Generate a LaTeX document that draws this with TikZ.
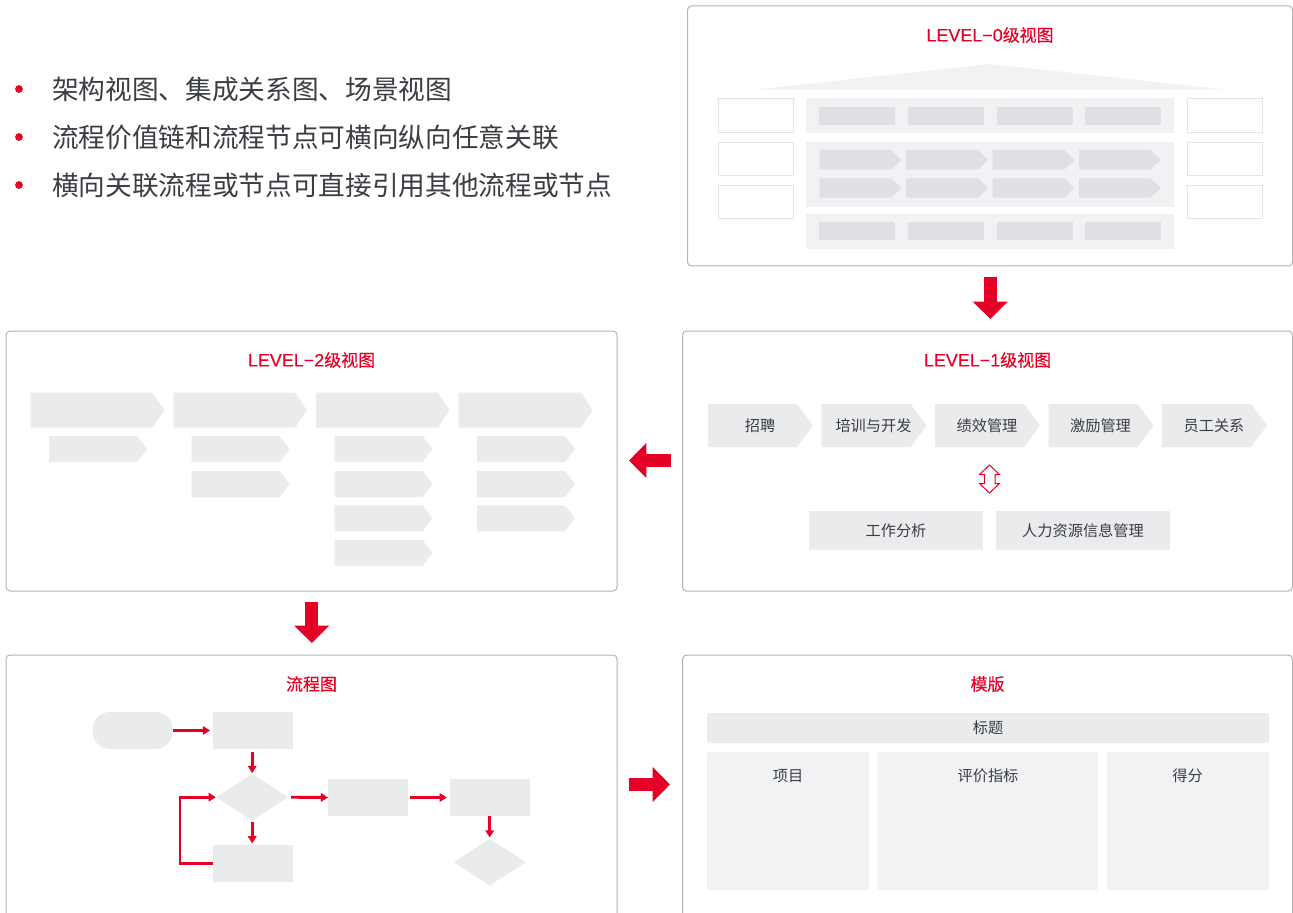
\documentclass[tikz,border=0pt]{standalone}
\usepackage{fontspec}
\setmainfont{Liberation Sans}
\newfontfamily\cjk{Noto Sans CJK SC}
\newfontfamily\cjkt[FakeBold=0.3]{Noto Sans CJK SC}
\newfontfamily\lattitle[FakeBold=0.25,Scale=1.06]{Liberation Sans}
\usetikzlibrary{arrows.meta,shapes.geometric}
\definecolor{brandred}{HTML}{E60026}
\definecolor{panelline}{HTML}{B4B4B4}
\definecolor{boxgrey}{HTML}{EAEBED}
\definecolor{bandgrey}{HTML}{F1F2F4}
\definecolor{innergrey}{HTML}{DFE0E3}
\definecolor{hollowline}{HTML}{E3E4E7}
\definecolor{inktext}{HTML}{3A3D42}
\tikzset{
  panelbox/.style={draw=panelline,line width=0.75pt,rounded corners=3pt,fill=white},
  greybox/.style={fill=boxgrey},
  bandbox/.style={fill=bandgrey},
  softbox/.style={fill=bandgrey,rounded corners=1.5pt},
  softhead/.style={fill=boxgrey,rounded corners=1.5pt},
  innerbox/.style={fill=innergrey},
  hollowbox/.style={draw=hollowline,line width=0.75pt,fill=white},
  label/.style={font=\cjk\fontsize{11.4pt}{13pt}\selectfont,text=inktext},
  paneltitle/.style={text=brandred,font=\fontsize{12.7pt}{15pt}\selectfont,inner sep=0pt},
  bullettext/.style={anchor=west,inner sep=0pt,text=inktext,font=\cjk\fontsize{20pt}{24pt}\selectfont},
  bulletdot/.style={circle,fill=brandred,inner sep=0pt,minimum size=5.8pt},
  blockarrow/.style={draw=brandred,line width=10pt,-{Triangle[width=25.5pt,length=13pt,color=brandred]}},
  flowarrow/.style={draw=brandred,line width=2.2pt,-{Triangle[width=6.4pt,length=5.4pt,color=brandred]}},
}
% name, style, x0, y0, x1, y1, text (all in reference pixels)
\newcommand{\pxbox}[7]{\node[#2,inner sep=0pt,outer sep=0pt,minimum width={(#5-#3)*0.75pt},minimum height={(#6-#4)*0.75pt}] (#1) at ({(#3+#5)/2},{(#4+#6)/2}) {#7};}
% colour, x0, body end, tip, y0, y1
\newcommand{\chevron}[6]{\fill[#1] (#2,#5) -- (#3,#5) -- (#4,{(#5+#6)/2}) -- (#3,#6) -- (#2,#6) -- cycle;}
\begin{document}
\begin{tikzpicture}[x=0.75pt,y=-0.75pt]
\useasboundingbox (0,0) rectangle (1293,913);
\fill[white] (0,0) rectangle (1293,913);
\clip (0,0) rectangle (1293,913);

% bullets
\node[bulletdot] (b1) at (19,89) {};
\node[bulletdot] (b2) at (19,137) {};
\node[bulletdot] (b3) at (19,185) {};
\node[bullettext] (t1) at (52,89) {架构视图、集成关系图、场景视图};
\node[bullettext] (t2) at (52,137) {流程价值链和流程节点可横向纵向任意关联};
\node[bullettext] (t3) at (52,185) {横向关联流程或节点可直接引用其他流程或节点};

% panels
\pxbox{p0}{panelbox}{687.5}{6}{1292.5}{266}{}
\pxbox{p1}{panelbox}{682.5}{331}{1292.5}{591}{}
\pxbox{p2}{panelbox}{6}{331}{617}{591}{}
\pxbox{p3}{panelbox}{6}{655}{617}{930}{}
\pxbox{p4}{panelbox}{682.5}{655}{1292.5}{930}{}

% panel titles
\node[paneltitle] (h0) at (990,35) {{\lattitle LEVEL−0}{\cjkt 级视图}};
\node[paneltitle] (h1) at (987.5,360) {{\lattitle LEVEL−1}{\cjkt 级视图}};
\node[paneltitle] (h2) at (311.5,360) {{\lattitle LEVEL−2}{\cjkt 级视图}};
\node[paneltitle] (h3) at (311.5,684) {\cjkt 流程图};
\node[paneltitle] (h4) at (987.5,684) {\cjkt 模版};

% LEVEL-0
\fill[bandgrey] (754,89.7) -- (990,64) -- (1226,89.7) -- cycle;
\pxbox{l1}{hollowbox}{718.5}{99}{793}{132.5}{}
\pxbox{l2}{hollowbox}{718.5}{142.5}{793}{176}{}
\pxbox{l3}{hollowbox}{718.5}{185.5}{793}{219}{}
\pxbox{r1}{hollowbox}{1187.5}{99}{1262}{132.5}{}
\pxbox{r2}{hollowbox}{1187.5}{142.5}{1262}{176}{}
\pxbox{r3}{hollowbox}{1187.5}{185.5}{1262}{219}{}
\pxbox{b01}{bandbox}{806}{98}{1174}{133}{}
\pxbox{b02}{bandbox}{806}{142}{1174}{207}{}
\pxbox{b03}{bandbox}{806}{214}{1174}{249}{}
\pxbox{i11}{innerbox}{819}{107}{895}{125.5}{}
\pxbox{i12}{innerbox}{908}{107}{984}{125.5}{}
\pxbox{i13}{innerbox}{997}{107}{1073}{125.5}{}
\pxbox{i14}{innerbox}{1085}{107}{1161}{125.5}{}
\pxbox{i31}{innerbox}{819}{222}{895}{240}{}
\pxbox{i32}{innerbox}{908}{222}{984}{240}{}
\pxbox{i33}{innerbox}{997}{222}{1073}{240}{}
\pxbox{i34}{innerbox}{1085}{222}{1161}{240}{}
\chevron{innergrey}{819.5}{891}{901.5}{150}{169.7}
\chevron{innergrey}{906}{978}{988}{150}{169.7}
\chevron{innergrey}{992.5}{1064}{1074.5}{150}{169.7}
\chevron{innergrey}{1079}{1150}{1161}{150}{169.7}
\chevron{innergrey}{819.5}{891}{901.5}{178.3}{197.7}
\chevron{innergrey}{906}{978}{988}{178.3}{197.7}
\chevron{innergrey}{992.5}{1064}{1074.5}{178.3}{197.7}
\chevron{innergrey}{1079}{1150}{1161}{178.3}{197.7}

% LEVEL-1
\chevron{boxgrey}{708}{797}{813}{404}{447}
\chevron{boxgrey}{821.5}{910.5}{926.5}{404}{447}
\chevron{boxgrey}{935}{1024}{1040}{404}{447}
\chevron{boxgrey}{1048.5}{1137.5}{1153.5}{404}{447}
\chevron{boxgrey}{1162}{1251}{1267}{404}{447}
\node[label] (c1) at (760,425.5) {招聘};
\node[label] (c2) at (873.5,425.5) {培训与开发};
\node[label] (c3) at (987,425.5) {绩效管理};
\node[label] (c4) at (1100.5,425.5) {激励管理};
\node[label] (c5) at (1214,425.5) {员工关系};
\draw[brandred,line width=0.75pt,fill=white,miter limit=10] (989.5,465) -- (999.5,474.5) -- (995,474.5) -- (995,483.5) -- (999.5,483.5) -- (989.5,493) -- (979.5,483.5) -- (984.5,483.5) -- (984.5,474.5) -- (979.5,474.5) -- cycle;
\pxbox{w1}{greybox,label}{809}{511}{983}{550}{工作分析}
\pxbox{w2}{greybox,label}{996}{511}{1170}{550}{人力资源信息管理}

% LEVEL-2
\chevron{boxgrey}{30.5}{152}{164.5}{392.7}{427.7}
\chevron{boxgrey}{173.5}{295}{307}{392.7}{427.7}
\chevron{boxgrey}{316}{438}{449.5}{392.7}{427.7}
\chevron{boxgrey}{458.5}{581}{592.5}{392.7}{427.7}
\chevron{boxgrey}{49}{137}{147}{436}{462}
\chevron{boxgrey}{191.5}{279.5}{289.5}{436}{462}
\chevron{boxgrey}{191.5}{279.5}{289.5}{471}{497}
\chevron{boxgrey}{334.5}{422.5}{432.5}{436}{462}
\chevron{boxgrey}{334.5}{422.5}{432.5}{471}{497}
\chevron{boxgrey}{334.5}{422.5}{432.5}{505.3}{531.3}
\chevron{boxgrey}{334.5}{422.5}{432.5}{540}{566}
\chevron{boxgrey}{477}{565}{575}{436}{462}
\chevron{boxgrey}{477}{565}{575}{471}{497}
\chevron{boxgrey}{477}{565}{575}{505.3}{531.3}

% flow chart
\pxbox{fs}{greybox,rounded corners=13pt}{92.7}{712}{172.7}{749}{}
\pxbox{fa}{greybox}{213}{712}{293}{749}{}
\node[diamond,fill=boxgrey,inner sep=0pt,outer sep=0pt,minimum width=54.2pt,minimum height=34.7pt] (fd) at (252.2,797.2) {};
\pxbox{fb}{greybox}{213}{845}{293}{882}{}
\pxbox{fc}{greybox}{328}{779}{408}{816}{}
\pxbox{fe}{greybox}{450}{779}{530}{816}{}
\node[diamond,fill=boxgrey,inner sep=0pt,outer sep=0pt,minimum width=54.2pt,minimum height=34.7pt] (fg) at (489.7,862.2) {};
\draw[flowarrow,shorten >=2.2pt] (fs.east) -- (fa.west);
\draw[flowarrow,shorten <=2.2pt,shorten >=0.7pt] (fa.south -| fd.north) -- (fd.north);
\draw[flowarrow,shorten <=1.5pt,shorten >=1.2pt] (fd.south) -- (fb.north -| fd.south);
\draw[flowarrow,shorten <=2.1pt] (fd.east) -- (fc.west);
\draw[flowarrow,shorten <=1.5pt,shorten >=2.4pt] (fc.east) -- (fe.west);
\draw[flowarrow,shorten >=1.2pt] (fe.south -| fg.north) -- (fg.north);
\coordinate (loopx) at (180,863.5);
\draw[flowarrow,shorten >=0.2pt] (fb.west) -- (loopx) -- (loopx |- fd.west) -- (fd.west);

% template
\pxbox{m0}{softhead,label}{707}{713}{1269}{743}{标题}
\pxbox{m1}{softbox}{707}{752}{869}{890}{}
\pxbox{m2}{softbox}{877.5}{752}{1098}{890}{}
\pxbox{m3}{softbox}{1106.5}{752}{1269}{890}{}
\node[label] (m1t) at (788,776) {项目};
\node[label] (m2t) at (988,776) {评价指标};
\node[label] (m3t) at (1187.5,776) {得分};

% block arrows between panels
\coordinate (a0s) at (990.3,277);
\coordinate (a0e) at (990.3,319);
\coordinate (a1s) at (670.5,460.5);
\coordinate (a1e) at (629,460.5);
\coordinate (a2s) at (311.8,601.7);
\coordinate (a2e) at (311.8,643);
\coordinate (a3s) at (628.5,784.5);
\coordinate (a3e) at (670,784.5);
\draw[blockarrow] (a0s) -- (a0e);
\draw[blockarrow] (a1s) -- (a1e);
\draw[blockarrow] (a2s) -- (a2e);
\draw[blockarrow] (a3s) -- (a3e);
\end{tikzpicture}
\end{document}
